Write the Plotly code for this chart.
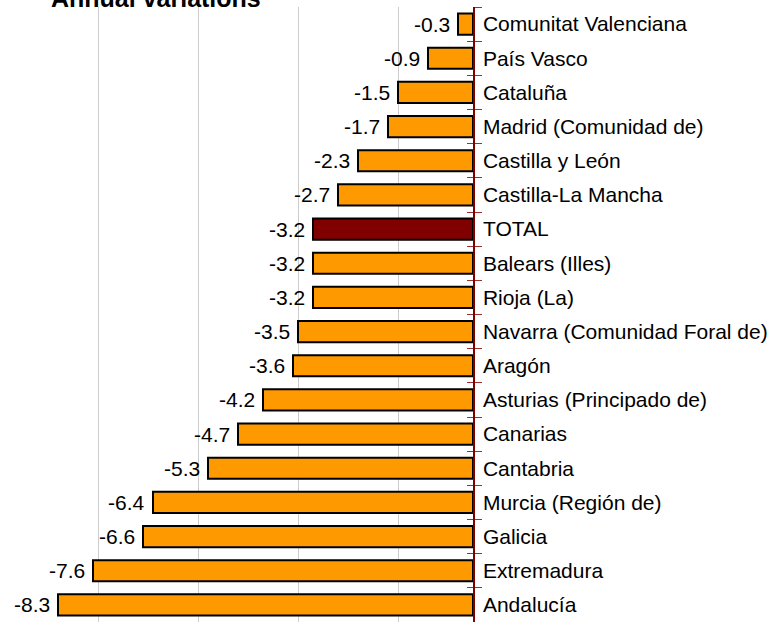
import plotly.graph_objects as go

regions = ["Comunitat Valenciana", "País Vasco", "Cataluña", "Madrid (Comunidad de)",
           "Castilla y León", "Castilla-La Mancha", "TOTAL", "Balears (Illes)", "Rioja (La)",
           "Navarra (Comunidad Foral de)", "Aragón", "Asturias (Principado de)", "Canarias",
           "Cantabria", "Murcia (Región de)", "Galicia", "Extremadura", "Andalucía"]
values = [-0.3, -0.9, -1.5, -1.7, -2.3, -2.7, -3.2, -3.2, -3.2, -3.5, -3.6, -4.2, -4.7,
          -5.3, -6.4, -6.6, -7.6, -8.3]
highlight = "TOTAL"
title_text = "Annual variations"
grid_vals = [-7.5, -5.5, -3.5, -1.5]

FONT = "Arial, Liberation Sans, sans-serif"
colors = ["#800000" if r == highlight else "#FF9900" for r in regions]
n = len(regions)

fig = go.Figure()
fig.add_trace(go.Bar(
    x=values, y=regions, orientation="h",
    marker=dict(color=colors, line=dict(color="black", width=2)),
    hoverinfo="skip",
))
# invisible helper trace for the inner half of the crossing ticks
fig.add_trace(go.Scatter(
    x=values, y=regions, mode="markers", marker=dict(opacity=0),
    yaxis="y2", hoverinfo="skip", showlegend=False,
))

annotations = [dict(text=f"{v:.1f}", x=v, y=r, xref="x", yref="y",
                    xanchor="right", yanchor="middle", xshift=-6, showarrow=False,
                    font=dict(family=FONT, size=21, color="black"))
               for r, v in zip(regions, values)]
annotations.append(dict(text=f"<b>{title_text}</b>", xref="paper", yref="paper",
                        x=0.33, y=1, xanchor="center", yanchor="bottom", yshift=-7,
                        showarrow=False, font=dict(family=FONT, size=25, color="black")))

fig.update_layout(
    width=784, height=622,
    margin=dict(l=0, r=311, t=7, b=0, autoexpand=False),
    paper_bgcolor="white", plot_bgcolor="white",
    showlegend=False, bargap=0.38,
    xaxis=dict(range=[-9.46, 0], tickvals=grid_vals, showticklabels=False,
               showgrid=True, gridcolor="#cccccc", gridwidth=1, automargin=False,
               zeroline=False, showline=False, fixedrange=True),
    yaxis=dict(categoryorder="array", categoryarray=regions, range=[n - 0.5, -0.5],
               side="right", showline=True, linecolor="#800000", linewidth=1.5,
               ticks="outside", ticklen=7, tickcolor="#a03030", tickwidth=1,
               tickson="boundaries", showgrid=False, automargin=False,
               ticklabelstandoff=4,
               tickfont=dict(family=FONT, size=21, color="black")),
    yaxis2=dict(overlaying="y", matches="y", side="right", showticklabels=False,
                categoryorder="array", categoryarray=regions, automargin=False,
                ticks="inside", ticklen=6, tickcolor="#a03030", tickwidth=1,
                tickson="boundaries", showgrid=False, showline=False),
    annotations=annotations,
)

fig.write_html("out.html", config={"displayModeBar": False},
               post_script="document.body.style.margin='0';document.body.style.overflow='hidden';")
